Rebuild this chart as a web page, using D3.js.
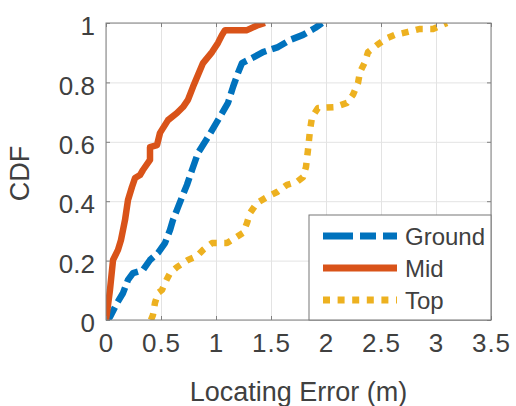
<!DOCTYPE html>
<html>
<head>
<meta charset="utf-8">
<script src="https://cdn.jsdelivr.net/npm/d3@7"></script>
<style>
  body { margin: 0; background: #fff; }
  text { font-family: "Liberation Sans", Arial, sans-serif; fill: #404040; }
</style>
</head>
<body>
<script>
// CDF samples
var groundX = [0, 0.036, 0.1, 0.155, 0.2, 0.245, 0.336, 0.4, 0.473, 0.536, 0.582, 0.609, 0.655, 0.691, 0.736, 0.782, 0.836, 0.927, 1.018, 1.109, 1.155, 1.2, 1.236, 1.327, 1.427, 1.564, 1.673, 1.791, 1.9, 1.964];
var groundY = [0, 0.010, 0.057, 0.091, 0.135, 0.158, 0.168, 0.202, 0.226, 0.259, 0.303, 0.337, 0.380, 0.414, 0.455, 0.505, 0.562, 0.616, 0.673, 0.731, 0.785, 0.832, 0.865, 0.882, 0.902, 0.919, 0.943, 0.960, 0.983, 1.0];

var midX = [0, 0.009, 0.036, 0.064, 0.109, 0.136, 0.173, 0.2, 0.236, 0.264, 0.309, 0.336, 0.4, 0.4, 0.464, 0.491, 0.564, 0.645, 0.7, 0.745, 0.791, 0.836, 0.882, 0.964, 1.018, 1.055, 1.082, 1.282, 1.382, 1.445];
var midY = [0, 0.024, 0.101, 0.202, 0.236, 0.269, 0.337, 0.404, 0.448, 0.478, 0.488, 0.505, 0.539, 0.582, 0.589, 0.630, 0.673, 0.697, 0.717, 0.741, 0.785, 0.825, 0.865, 0.902, 0.933, 0.960, 0.976, 0.976, 0.993, 1.0];

var topX = [0.409, 0.427, 0.445, 0.473, 0.509, 0.536, 0.582, 0.645, 0.745, 0.827, 0.882, 0.964, 1.1, 1.173, 1.245, 1.282, 1.309, 1.373, 1.464, 1.555, 1.645, 1.736, 1.791, 1.818, 1.836, 1.855, 1.873, 1.927, 2.082, 2.191, 2.245, 2.291, 2.309, 2.355, 2.382, 2.464, 2.555, 2.627, 2.745, 2.855, 2.973, 3.1];
var topY = [0, 0.017, 0.057, 0.091, 0.101, 0.125, 0.158, 0.178, 0.202, 0.215, 0.236, 0.259, 0.259, 0.276, 0.293, 0.327, 0.360, 0.394, 0.414, 0.431, 0.455, 0.465, 0.481, 0.515, 0.572, 0.640, 0.683, 0.714, 0.717, 0.731, 0.758, 0.798, 0.835, 0.869, 0.902, 0.926, 0.949, 0.960, 0.970, 0.980, 0.980, 1.0];

var seriesNames = ["Ground", "Mid", "Top"];
var xTicks = [0, 0.5, 1, 1.5, 2, 2.5, 3, 3.5];
var yTicks = [0, 0.2, 0.4, 0.6, 0.8, 1];

var margin = {top: 23, right: 25, bottom: 86, left: 106},
    width = 516 - margin.left - margin.right,
    height = 406 - margin.top - margin.bottom;

var x_scale = d3.scaleLinear().domain([0, 3.5]).range([0, width]),
    y_scale = d3.scaleLinear().domain([0, 1]).range([height, 0]);

var colors = ["#0072BD", "#D95319", "#EDB120"],
    dashes = ["16,6", null, "7,7.5"];

var series = [
  d3.zip(groundX, groundY),
  d3.zip(midX, midY),
  d3.zip(topX, topY)
];

var svg = d3.select("body").append("svg")
    .attr("width", 516)
    .attr("height", 406)
  .append("g")
    .attr("transform", "translate(" + margin.left + "," + margin.top + ")");

svg.append("rect")
    .attr("width", width)
    .attr("height", height)
    .style("fill", "#fff");

// grid
svg.append("g")
    .attr("transform", "translate(0," + height + ")")
    .call(d3.axisBottom(x_scale).tickValues(xTicks).tickSize(-height).tickFormat(""))
    .call(function(g) { g.select(".domain").remove(); })
    .selectAll("line").style("stroke", "#e3e3e3");

svg.append("g")
    .call(d3.axisLeft(y_scale).tickValues(yTicks).tickSize(-width).tickFormat(""))
    .call(function(g) { g.select(".domain").remove(); })
    .selectAll("line").style("stroke", "#e3e3e3");

// curves
svg.append("clipPath").attr("id", "plot-clip")
  .append("rect").attr("width", width).attr("height", height);

var line = d3.line()
    .x(function(d) { return x_scale(d[0]); })
    .y(function(d) { return y_scale(d[1]); });

svg.append("g").attr("clip-path", "url(#plot-clip)")
  .selectAll("path")
    .data(series)
  .enter().append("path")
    .attr("d", line)
    .style("fill", "none")
    .style("stroke", function(d, i) { return colors[i]; })
    .style("stroke-width", 6.5)
    .style("stroke-linejoin", "round")
    .style("stroke-dasharray", function(d, i) { return dashes[i]; });

// axes box and inward ticks
var boxColor = "#808080";

var x_axis = svg.append("g")
    .attr("transform", "translate(0," + height + ")")
    .call(d3.axisBottom(x_scale).tickValues(xTicks).tickSizeInner(-4).tickSizeOuter(0)
      .tickPadding(14).tickFormat(d3.format("")));
x_axis.select(".domain").remove();
x_axis.selectAll("line").style("stroke", boxColor);
x_axis.selectAll("text")
    .style("font-size", "26px")
    .style("letter-spacing", "1px")
    .style("fill", "#404040")
    .attr("dy", "0.71em");

var y_axis = svg.append("g")
    .call(d3.axisLeft(y_scale).tickValues(yTicks).tickSizeInner(-4).tickSizeOuter(0)
      .tickPadding(11).tickFormat(d3.format("")));
y_axis.select(".domain").remove();
y_axis.selectAll("line").style("stroke", boxColor);
y_axis.selectAll("text")
    .style("font-size", "26px")
    .style("fill", "#404040")
    .attr("dy", "0.45em");

svg.append("g")
    .call(d3.axisTop(x_scale).tickValues(xTicks).tickSizeInner(-4).tickSizeOuter(0).tickFormat(""))
    .call(function(g) { g.select(".domain").remove(); g.selectAll("line").style("stroke", boxColor); });

svg.append("g")
    .attr("transform", "translate(" + width + ",0)")
    .call(d3.axisRight(y_scale).tickValues(yTicks).tickSizeInner(-4).tickSizeOuter(0).tickFormat(""))
    .call(function(g) { g.select(".domain").remove(); g.selectAll("line").style("stroke", boxColor); });

svg.append("rect")
    .attr("width", width)
    .attr("height", height)
    .style("fill", "none")
    .style("stroke", boxColor)
    .style("stroke-width", 1);

// axis labels
svg.append("text")
    .attr("x", width / 2)
    .attr("y", height + 81)
    .style("text-anchor", "middle")
    .style("font-size", "27px")
    .text("Locating Error (m)");

svg.append("text")
    .attr("transform", "translate(" + (-77) + "," + (height / 2 + 2) + ") rotate(-90)")
    .style("text-anchor", "middle")
    .style("font-size", "27px")
    .text("CDF");

// legend
var legend = svg.append("g")
    .attr("transform", "translate(" + (width - 182) + "," + (height - 105) + ")");

legend.append("rect")
    .attr("width", 182)
    .attr("height", 105)
    .style("fill", "#fff")
    .style("stroke", "#777")
    .style("stroke-width", 1);

var legendDashes = ["30,7,16,7,16", null, "7,7.6"];

var item = legend.selectAll(".item")
    .data(seriesNames)
  .enter().append("g")
    .attr("class", "item")
    .attr("transform", function(d, i) { return "translate(0," + (21 + i * 32) + ")"; });

item.append("line")
    .attr("x1", 14)
    .attr("x2", 88)
    .style("stroke", function(d, i) { return colors[i]; })
    .style("stroke-width", 7)
    .style("stroke-dasharray", function(d, i) { return legendDashes[i]; });

item.append("text")
    .attr("x", 96)
    .attr("dy", "0.36em")
    .style("font-size", "24px")
    .text(function(d) { return d; });
</script>
</body>
</html>
